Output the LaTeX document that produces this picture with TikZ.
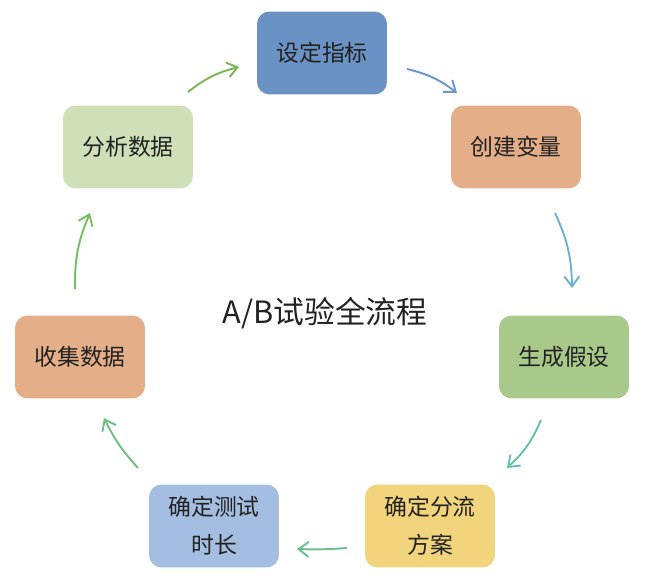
\documentclass[tikz,border=0pt]{standalone}
\usepackage{fontspec}
\setmainfont{Noto Sans CJK SC}
\usetikzlibrary{arrows.meta}
\definecolor{cBlue}{RGB}{106,146,196}
\definecolor{cOrange}{RGB}{227,174,136}
\definecolor{cGreen}{RGB}{169,201,139}
\definecolor{cYellow}{RGB}{242,212,124}
\definecolor{cSky}{RGB}{163,190,224}
\definecolor{cLeaf}{RGB}{207,223,184}
\definecolor{cText}{RGB}{34,34,34}
\definecolor{aOne}{RGB}{104,152,206}
\definecolor{aTwo}{RGB}{110,178,204}
\definecolor{aThree}{RGB}{104,192,176}
\definecolor{aFour}{RGB}{108,192,142}
\definecolor{aFive}{RGB}{108,192,128}
\definecolor{aSix}{RGB}{114,192,99}
\definecolor{aSeven}{RGB}{122,184,82}
\begin{document}
\begin{tikzpicture}[x=0.02cm, y=-0.02cm,
  stepbox/.style={rounded corners=0.25cm, minimum width=2.6cm, minimum height=1.66cm,
    align=center, text=cText, font=\fontsize{13}{21.5}\selectfont},
  flow/.style={-{Straight Barb[length=2mm,width=3mm]}, line width=1.1pt, bend left=12}]
  \useasboundingbox (0,0) rectangle (646,584);
  \node[stepbox, fill=cBlue] (metric) at (322,53) {设定指标};
  \node[stepbox, fill=cOrange] (variable) at (516,147) {创建变量};
  \node[stepbox, fill=cGreen] (hypo) at (564,357) {生成假设};
  \node[stepbox, fill=cYellow] (split) at (430,526) {确定分流\\方案};
  \node[stepbox, fill=cSky] (duration) at (214,526) {确定测试\\时长};
  \node[stepbox, fill=cOrange] (collect) at (80,357) {收集数据};
  \node[stepbox, fill=cLeaf] (analyse) at (128,147) {分析数据};
  \node[text=cText, font=\fontsize{17.5}{20}\selectfont] (title) at (325,313) {A/B试验全流程};
  \coordinate (a1s) at (407,69);
  \coordinate (a1e) at (457,93);
  \coordinate (a2s) at (555,213);
  \coordinate (a2e) at (572,288);
  \coordinate (a3s) at (541,420);
  \coordinate (a3e) at (507,468);
  \coordinate (a4s) at (347,548);
  \coordinate (a4e) at (297,549);
  \coordinate (a5s) at (138,468);
  \coordinate (a5e) at (104,418);
  \coordinate (a6s) at (75,289);
  \coordinate (a6e) at (90,213);
  \coordinate (a7s) at (188,92);
  \coordinate (a7e) at (239,67);
  \draw[flow, aOne] (a1s) to (a1e);
  \draw[flow, aTwo] (a2s) to (a2e);
  \draw[flow, aThree] (a3s) to (a3e);
  \draw[flow, aFour, bend left=3] (a4s) to (a4e);
  \draw[flow, aFive, bend left=8] (a5s) to (a5e);
  \draw[flow, aSix] (a6s) to (a6e);
  \draw[flow, aSeven] (a7s) to (a7e);
\end{tikzpicture}
\end{document}
